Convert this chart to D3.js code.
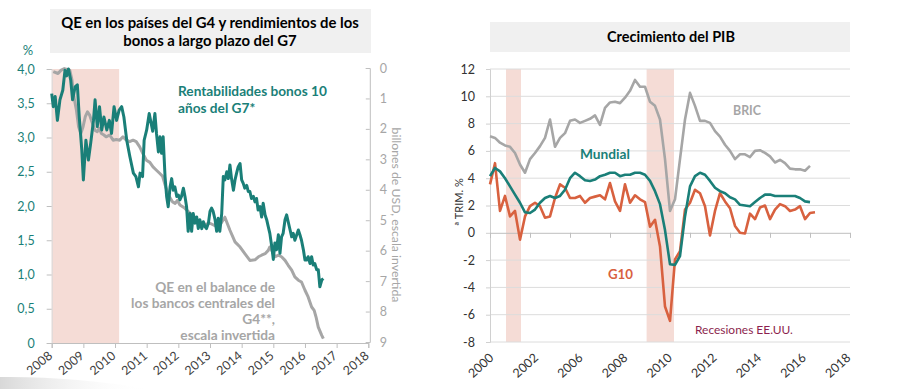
<!DOCTYPE html>
<html><head><meta charset="utf-8">
<script src="https://cdn.jsdelivr.net/npm/d3@7"></script>
<style>
html,body{margin:0;padding:0;background:#fff;}
svg{display:block;font-family:Lato,"Open Sans",sans-serif;}
</style></head><body>
<svg id="c" width="897" height="389"></svg>
<script>
// ---------------- DATA ----------------
const leftTitle = ["QE en los países del G4 y rendimientos de los", "bonos a largo plazo del G7"];
const rightTitle = "Crecimiento del PIB";
const leftYears = [2008,2009,2010,2011,2012,2013,2014,2015,2016,2017,2018];
const yieldTicks = [0,0.5,1,1.5,2,2.5,3,3.5,4];
const qeTicks = [0,1,2,3,4,5,6,7,8,9];
const leftRecession = [2008.0, 2010.13];
const yieldLabel = ["Rentabilidades bonos 10", "años del G7*"];
const qeLabel = ["QE en el balance de", "los bancos centrales del", "G4**,", "escala invertida"];
const qeAxisTitle = "billones de USD, escala invertida";

// G7 10-year yields, % : [year, value]
const yields = [[2008.00,3.64],[2008.05,3.45],[2008.11,3.60],[2008.18,3.25],[2008.26,3.55],[2008.35,3.69],[2008.42,3.98],[2008.47,3.90],[2008.53,4.00],[2008.60,3.84],[2008.66,3.55],[2008.74,3.74],[2008.81,3.77],[2008.87,3.30],[2008.95,2.82],[2009.00,2.38],[2009.08,2.96],[2009.16,2.67],[2009.23,2.91],[2009.32,3.25],[2009.37,3.55],[2009.44,3.16],[2009.51,3.45],[2009.58,3.11],[2009.65,3.30],[2009.74,3.11],[2009.82,3.25],[2009.89,3.06],[2009.97,3.45],[2010.05,3.25],[2010.13,3.40],[2010.21,3.45],[2010.28,3.30],[2010.37,2.96],[2010.47,2.72],[2010.58,2.48],[2010.66,2.43],[2010.74,2.28],[2010.79,2.48],[2010.87,2.43],[2010.92,2.96],[2011.00,3.11],[2011.08,3.35],[2011.19,3.09],[2011.26,3.35],[2011.31,3.06],[2011.37,2.79],[2011.42,3.01],[2011.47,2.77],[2011.52,3.01],[2011.58,2.43],[2011.63,2.14],[2011.68,1.99],[2011.74,2.28],[2011.79,2.40],[2011.84,2.23],[2011.89,2.28],[2011.95,2.14],[2012.00,2.16],[2012.05,2.09],[2012.10,2.14],[2012.16,2.26],[2012.21,2.14],[2012.26,1.99],[2012.31,1.63],[2012.37,1.89],[2012.42,1.63],[2012.47,1.89],[2012.53,1.75],[2012.58,1.84],[2012.63,1.67],[2012.68,1.80],[2012.74,1.67],[2012.79,1.77],[2012.84,1.70],[2012.89,1.67],[2012.95,1.75],[2013.00,1.92],[2013.05,1.97],[2013.10,1.92],[2013.16,1.80],[2013.21,1.63],[2013.26,1.82],[2013.31,1.63],[2013.37,1.89],[2013.42,2.43],[2013.47,2.38],[2013.53,2.50],[2013.58,2.40],[2013.63,2.60],[2013.68,2.40],[2013.74,2.23],[2013.79,2.38],[2013.84,2.48],[2013.89,2.57],[2013.95,2.62],[2014.00,2.38],[2014.05,2.33],[2014.10,2.26],[2014.16,2.30],[2014.21,2.21],[2014.26,2.21],[2014.31,2.11],[2014.37,2.14],[2014.42,2.06],[2014.47,2.11],[2014.52,1.94],[2014.58,1.99],[2014.63,1.84],[2014.68,2.04],[2014.74,1.87],[2014.79,1.80],[2014.84,1.70],[2014.89,1.60],[2014.95,1.41],[2015.00,1.22],[2015.05,1.46],[2015.10,1.36],[2015.16,1.58],[2015.21,1.31],[2015.26,1.55],[2015.31,1.60],[2015.37,1.80],[2015.42,1.87],[2015.47,1.77],[2015.53,1.65],[2015.58,1.55],[2015.63,1.60],[2015.68,1.50],[2015.74,1.58],[2015.79,1.65],[2015.84,1.58],[2015.89,1.50],[2015.95,1.36],[2016.00,1.21],[2016.05,1.21],[2016.10,1.26],[2016.16,1.16],[2016.21,1.26],[2016.26,1.14],[2016.31,1.16],[2016.37,1.07],[2016.42,1.07],[2016.47,0.82],[2016.53,0.92],[2016.58,0.94]];

// QE in G4 central bank balance sheets, trillions USD (inverted axis) : [year, value]
const qe = [[2008.05,0.12],[2008.20,0.18],[2008.30,0.07],[2008.40,0.02],[2008.57,0.07],[2008.64,0.39],[2008.70,0.94],[2008.78,1.38],[2008.85,1.93],[2008.92,2.15],[2008.99,1.93],[2009.06,1.60],[2009.13,1.44],[2009.20,1.55],[2009.27,1.77],[2009.36,2.04],[2009.44,2.09],[2009.50,1.98],[2009.57,2.15],[2009.65,2.20],[2009.72,2.26],[2009.83,2.20],[2009.94,2.37],[2010.04,2.35],[2010.15,2.37],[2010.25,2.26],[2010.36,2.37],[2010.46,2.42],[2010.57,2.37],[2010.67,2.42],[2010.78,2.59],[2010.88,2.81],[2010.99,3.03],[2011.10,3.10],[2011.20,3.25],[2011.30,3.35],[2011.40,3.45],[2011.50,3.55],[2011.60,3.90],[2011.70,4.20],[2011.82,4.40],[2011.90,4.45],[2011.97,4.35],[2012.05,4.50],[2012.20,4.60],[2012.40,4.80],[2012.60,5.00],[2012.80,5.15],[2013.00,5.10],[2013.20,5.20],[2013.35,5.10],[2013.47,4.90],[2013.63,5.33],[2013.79,5.71],[2013.95,5.88],[2014.10,6.10],[2014.26,6.32],[2014.42,6.30],[2014.53,6.20],[2014.63,6.15],[2014.74,6.10],[2014.84,5.99],[2014.89,5.88],[2014.95,5.99],[2015.05,6.20],[2015.16,6.15],[2015.26,6.20],[2015.37,6.32],[2015.47,6.48],[2015.58,6.64],[2015.68,6.86],[2015.79,6.97],[2015.89,7.03],[2016.00,7.30],[2016.10,7.52],[2016.21,7.85],[2016.29,7.96],[2016.35,8.18],[2016.42,8.51],[2016.53,8.78],[2016.58,8.89]];

// Right chart: GDP growth, quarterly from 2000Q1
const gdpStartYear = 2000;
const gdpTicks = [-8,-6,-4,-2,0,2,4,6,8,10,12];
const gdpTickYears = [2000,2002,2004,2006,2008,2010,2012,2014,2016,2018];
const gdpXLabels = ["2000","2002","2006","2008","2010","2012","2014","2016","2018"];
const usRecessions = [[2000.8,2001.55],[2007.83,2009.2]];
const bric = [7.07,6.95,6.6,6.4, 6.3,5.85,5.0,4.4, 5.4,5.85,6.35,6.95, 8.3,6.3,6.95,7.3, 8.2,8.3,8.05,8.2, 8.35,8.6,7.9,9.15, 9.55,9.6,9.5,9.9, 10.4,11.2,10.7,10.7, 9.6,9.3,8.3,5.4, 1.6,2.45,5.4,8.3, 10.25,9.3,8.2,8.2, 8.05,7.45,7.05,6.45, 6.0,5.4,5.75,5.75, 5.55,6.0,6.05,5.85, 5.6,5.15,5.35,5.1, 4.7,4.65,4.65,4.55, 4.9];
const mundial = [4.15,4.75,4.5,4.0, 3.4,2.8,2.2,1.5, 1.45,1.7,2.2,2.55, 2.7,2.55,2.7,3.15, 4.0,4.4,4.15,3.85, 3.8,3.9,4.15,4.25, 4.4,4.4,4.15,4.25, 4.25,4.4,4.4,4.25, 3.8,3.05,2.1,0.2, -2.3,-2.35,-1.7,1.2, 3.4,4.15,4.4,4.25, 3.8,3.3,3.05,2.9, 2.6,2.45,2.05,2.0, 1.95,2.25,2.55,2.8, 2.8,2.7,2.7,2.7, 2.7,2.7,2.55,2.3, 2.25];
const g10 = [3.55,5.1,1.6,2.7, 1.2,1.6,-0.5,1.2, 1.95,2.2,1.95,1.1, 1.2,2.55,3.55,3.3, 2.55,2.55,2.7,2.2, 2.55,2.65,2.75,2.45, 3.65,2.3,1.6,3.55, 2.2,2.75,2.45,2.25, 0.45,0.95,-1.0,-5.4, -6.45,-1.95,-1.35,1.7, 2.2,3.15,2.9,1.95, -0.2,1.6,2.9,2.3, 1.8,0.5,0.0,-0.05, 1.4,1.0,1.85,2.0, 1.0,1.7,2.1,1.95, 1.6,1.7,1.95,1.0, 1.45,1.5];
const gdpYLabel = "ª TRIM. %";
const seriesLabels = {bric:"BRIC", mundial:"Mundial", g10:"G10", rec:"Recesiones EE.UU."};

// ---------------- STYLE ----------------
const TEAL = "#1a7f78", GREY = "#a6a6a6", RED = "#d8613f", PINK = "#f5dcd6", BOX = "#f0f0f0";
const svg = d3.select("#c");

function fitWidth(sel, target){
  const w = sel.node().getComputedTextLength();
  const fs = parseFloat(sel.style("font-size"));
  return fs * target / w;
}
function styleAxis(g, color, size){
  g.attr("font-size", null).attr("font-family", null);
  g.selectAll("text").attr("fill", color).style("font-size", size + "px");
}

// decoration
const defs = svg.append("defs");
const grad = defs.append("linearGradient").attr("id","sw").attr("x1","0").attr("x2","1");
grad.append("stop").attr("offset","0").attr("stop-color","#d8d8d8");
grad.append("stop").attr("offset","1").attr("stop-color","#ffffff").attr("stop-opacity",0);
svg.append("path").attr("d","M0,377 Q70,376 150,389 L0,389 Z").attr("fill","url(#sw)");

// ================= LEFT CHART =================
const xL = d3.scaleLinear().domain([2008,2018]).range([51.7,368.3]);
const yL = d3.scaleLinear().domain([0,4]).range([343,69]);
const yQ = d3.scaleLinear().domain([0,9]).range([68,342]);

// title
svg.append("rect").attr("x",50).attr("y",9).attr("width",321).attr("height",44).attr("fill",BOX);
const tl = svg.append("g");
const tl1 = tl.append("text").attr("x",210).attr("y",28).attr("text-anchor","middle").attr("font-weight","bold").style("font-size","14px").text(leftTitle[0]);
const fsT = fitWidth(tl1, 298);
tl1.style("font-size", fsT+"px");
tl.append("text").attr("x",210).attr("y",46).attr("text-anchor","middle").attr("font-weight","bold").style("font-size",fsT+"px").text(leftTitle[1]);

// recession shading
svg.append("rect").attr("x",xL(leftRecession[0])).attr("y",yL(4))
  .attr("width",xL(leftRecession[1])-xL(leftRecession[0])).attr("height",yL(0)-yL(4)).attr("fill",PINK);

// axes
const axL = svg.append("g").attr("transform",`translate(${xL(2008)},0)`)
  .call(d3.axisLeft(yL).tickValues(yieldTicks).tickSize(5).tickPadding(12)
    .tickFormat(d => d === 0 ? "0" : d.toFixed(1).replace(".", ",")));
axL.select(".domain").attr("stroke","#d9d9d9");
axL.selectAll(".tick line").attr("stroke","#bfbfbf");
styleAxis(axL, TEAL, 12.5);

const axR = svg.append("g").attr("transform",`translate(${xL(2018)+1.5},0)`)
  .call(d3.axisRight(yQ).tickValues(qeTicks).tickSize(-4).tickPadding(10).tickFormat(d3.format("d")));
axR.select(".domain").attr("stroke","#bfbfbf");
axR.selectAll(".tick line").attr("stroke","#bfbfbf");
styleAxis(axR, GREY, 12.5);

const axB = svg.append("g").attr("transform",`translate(0,${yL(0)})`)
  .call(d3.axisBottom(xL).tickValues(leftYears).tickSize(5).tickFormat(d3.format("d")));
axB.select(".domain").attr("stroke","#bfbfbf");
axB.selectAll(".tick line").attr("stroke","#bfbfbf");
styleAxis(axB, "#404040", 12.5);
axB.selectAll("text").attr("x",0).attr("y",0).attr("dy",0).attr("text-anchor","end")
  .attr("transform","translate(1,14) rotate(-40)");

svg.append("text").attr("x",28).attr("y",55).attr("text-anchor","middle").attr("fill",TEAL).style("font-size","13px").text("%");

const qt = svg.append("text").attr("transform","translate(392,215) rotate(90)").attr("text-anchor","middle")
  .attr("fill",GREY).style("font-size","12.5px").text(qeAxisTitle);
qt.style("font-size", fitWidth(qt,175)+"px");

// lines
const lineQ = d3.line().x(d => xL(d[0])).y(d => yQ(d[1]));
const lineY = d3.line().x(d => xL(d[0])).y(d => yL(d[1]));
svg.append("path").datum(qe).attr("d",lineQ).attr("fill","none").attr("stroke",GREY).attr("stroke-width",3).attr("stroke-linejoin","round");
svg.append("path").datum(yields).attr("d",lineY).attr("fill","none").attr("stroke",TEAL).attr("stroke-width",3).attr("stroke-linejoin","round");

// labels
const yl1 = svg.append("text").attr("x",178).attr("y",96).attr("fill",TEAL).attr("font-weight","bold").style("font-size","14px").text(yieldLabel[0]);
const fsY = fitWidth(yl1,149); yl1.style("font-size",fsY+"px");
svg.append("text").attr("x",178).attr("y",113).attr("fill",TEAL).attr("font-weight","bold").style("font-size",fsY+"px").text(yieldLabel[1]);

const qeY = [292,308,324,340];
const ql = svg.append("g");
qeLabel.forEach((t,i) => ql.append("text").attr("x",275).attr("y",qeY[i]).attr("text-anchor","end")
  .attr("fill",GREY).attr("font-weight","bold").style("font-size","14px").text(t));
const fsQ = fitWidth(ql.selectAll("text").filter((d,i)=>i===1), 144);
ql.selectAll("text").style("font-size",fsQ+"px");

// ================= RIGHT CHART =================
const xR = d3.scaleLinear().domain([2000,2018]).range([490,850]);
const yG = d3.scaleLinear().domain([-8,12]).range([342,69]);
const xLab = d3.scalePoint().domain(gdpXLabels).range([493,850]);
const qDate = i => gdpStartYear + i/4;

svg.append("rect").attr("x",490).attr("y",22).attr("width",360).attr("height",30).attr("fill",BOX);
const rt = svg.append("text").attr("x",671).attr("y",42).attr("text-anchor","middle").attr("font-weight","bold").style("font-size","14px").text(rightTitle);
rt.style("font-size", fitWidth(rt,128)+"px");

svg.selectAll(".rec").data(usRecessions).join("rect").attr("class","rec")
  .attr("x",d=>xR(d[0])).attr("width",d=>xR(d[1])-xR(d[0])).attr("y",yG(12)).attr("height",yG(-8)-yG(12)).attr("fill",PINK);

svg.append("g").selectAll("line").data(gdpTicks.filter(d=>d!==0)).join("line")
  .attr("x1",xR(2000)).attr("x2",xR(2018)).attr("y1",d=>yG(d)).attr("y2",d=>yG(d)).attr("stroke","#dcdcdc").attr("stroke-width",1);

const axGY = svg.append("g").attr("transform",`translate(${xR(2000)},0)`)
  .call(d3.axisLeft(yG).tickValues(gdpTicks).tickSize(4).tickPadding(11).tickFormat(d => String(d)));
axGY.select(".domain").attr("stroke","#d0d0d0");
axGY.selectAll(".tick line").attr("stroke","#d0d0d0");
styleAxis(axGY, "#333", 12.5);

const axGX = svg.append("g").attr("transform",`translate(0,${yG(0)})`)
  .call(d3.axisBottom(xR).tickValues(gdpTickYears).tickSize(5).tickFormat(""));
axGX.select(".domain").attr("stroke","#bfbfbf");
axGX.selectAll(".tick line").attr("stroke","#bfbfbf");

const axGL = svg.append("g").attr("transform",`translate(0,${yG(-8)})`)
  .call(d3.axisBottom(xLab).tickSize(0));
axGL.select(".domain").remove();
styleAxis(axGL, "#333", 12.5);
axGL.selectAll("text").attr("x",0).attr("y",0).attr("dy",0).attr("text-anchor","end")
  .attr("transform","translate(1,17) rotate(-42)");

svg.append("text").attr("transform","translate(463,202) rotate(-90)").attr("text-anchor","middle")
  .attr("fill","#333").style("font-size","11px").text(gdpYLabel);

const lineG = d3.line().x((d,i)=>xR(qDate(i))).y(d=>yG(d));
[[bric,GREY],[g10,RED],[mundial,TEAL]].forEach(([s,c]) =>
  svg.append("path").datum(s).attr("d",lineG).attr("fill","none").attr("stroke",c).attr("stroke-width",2.6).attr("stroke-linejoin","round"));

function lab(x,y,t,c,w,bold){
  const e = svg.append("text").attr("x",x).attr("y",y).attr("fill",c).attr("font-weight",bold?"bold":"normal").style("font-size","14px").text(t);
  e.style("font-size", fitWidth(e,w)+"px");
}
lab(733,115,seriesLabels.bric,GREY,28,true);
lab(580,159,seriesLabels.mundial,TEAL,50,true);
lab(608,279,seriesLabels.g10,RED,25,true);
lab(695,334,seriesLabels.rec,"#8c1f4e",98,false);
</script>
</body></html>
